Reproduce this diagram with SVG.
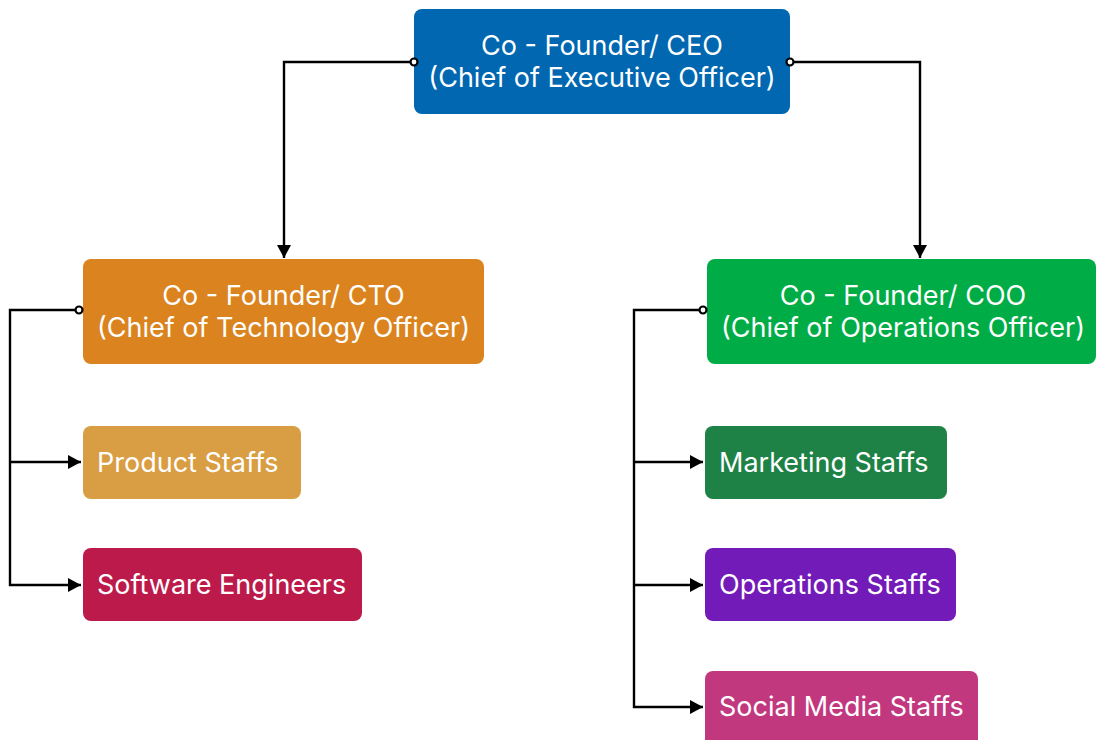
<svg xmlns="http://www.w3.org/2000/svg" width="1096" height="740" viewBox="0 0 1096 740">
<defs>
<marker id="arrow" viewBox="0 0 13 14" refX="13" refY="7" markerWidth="13" markerHeight="14" markerUnits="userSpaceOnUse" orient="auto">
<path d="M0,0 L13,7 L0,14 z" fill="#000"/>
</marker>
<marker id="dot" viewBox="0 0 11 11" refX="5.5" refY="5.5" markerWidth="11" markerHeight="11" markerUnits="userSpaceOnUse" orient="auto">
<circle cx="5.5" cy="5.5" r="3.5" fill="#fff" stroke="#000" stroke-width="2.2"/>
</marker>
<style>
.lbl{font-family:Inter,"Noto Sans",sans-serif;font-size:27px;fill:#fff;}
.c{text-anchor:middle;}
.edge{fill:none;stroke:#000;stroke-width:2.4;marker-start:url(#dot);marker-end:url(#arrow);}
.br{fill:none;stroke:#000;stroke-width:2.4;marker-end:url(#arrow);}
</style>
</defs>
<rect width="1096" height="740" fill="#fff"/>
<g id="ceo">
<rect x="414" y="9" width="376" height="105" rx="8" fill="#0067b0"/>
<text class="lbl c" x="602" y="55">Co - Founder/ CEO</text>
<text class="lbl c" x="602" y="87">(Chief of Executive Officer)</text>
</g>
<g id="cto">
<rect x="83" y="259" width="401" height="105" rx="8" fill="#db841f"/>
<text class="lbl c" x="283.5" y="305">Co - Founder/ CTO</text>
<text class="lbl c" x="283.5" y="337">(Chief of Technology Officer)</text>
</g>
<g id="coo">
<rect x="707" y="259" width="389" height="105" rx="8" fill="#00ac45"/>
<text class="lbl c" x="903" y="305">Co - Founder/ COO</text>
<text class="lbl c" x="903" y="337">(Chief of Operations Officer)</text>
</g>
<g id="product">
<rect x="83" y="426" width="218" height="73" rx="8" fill="#d99d43"/>
<text class="lbl" x="97" y="472">Product Staffs</text>
</g>
<g id="software">
<rect x="83" y="548" width="279" height="73" rx="8" fill="#bc1a4a"/>
<text class="lbl" x="97" y="594">Software Engineers</text>
</g>
<g id="marketing">
<rect x="705" y="426" width="242" height="73" rx="8" fill="#1e8246"/>
<text class="lbl" x="719" y="472">Marketing Staffs</text>
</g>
<g id="operations">
<rect x="705" y="548" width="251" height="73" rx="8" fill="#731bb8"/>
<text class="lbl" x="719" y="594">Operations Staffs</text>
</g>
<g id="social">
<rect x="705" y="671" width="273" height="80" rx="8" fill="#c2387f"/>
<text class="lbl" x="719" y="716">Social Media Staffs</text>
</g>
<g id="connectors">
<path class="edge" d="M414,62 H284 V258"/>
<path class="edge" d="M790,62 H920 V258"/>
<path class="edge" d="M79,310 H10 V585 H81"/>
<path class="br" d="M10,462 H81"/>
<path class="edge" d="M703,310 H634 V707 H703"/>
<path class="br" d="M634,462 H703"/>
<path class="br" d="M634,585 H703"/>
</g>
</svg>
